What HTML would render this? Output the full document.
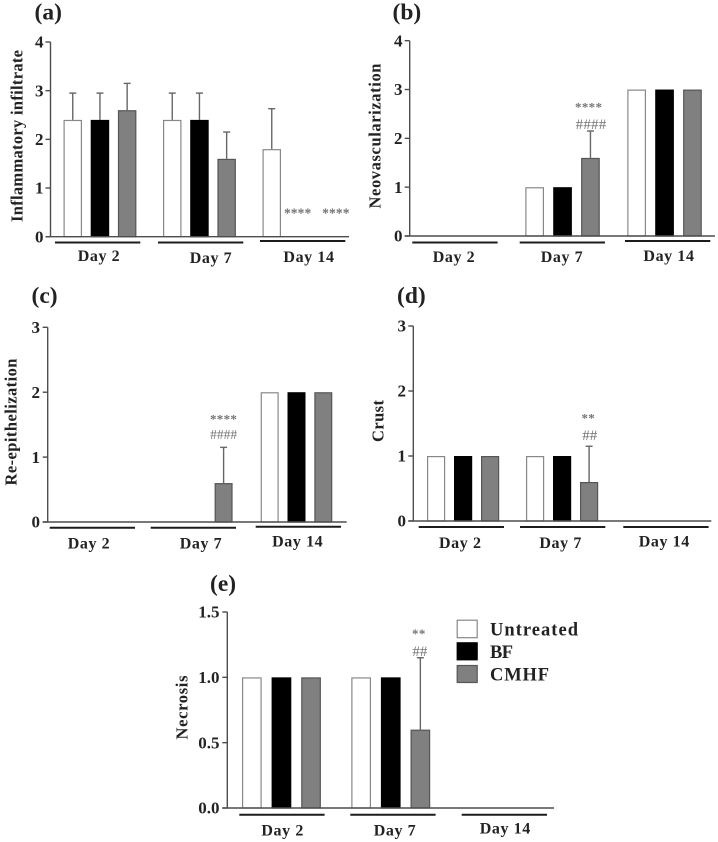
<!DOCTYPE html>
<html lang="en">
<head>
<meta charset="utf-8">
<title>Histological scores by day and treatment</title>
<style>
html,body{margin:0;padding:0;background:#fff;width:718px;height:842px;overflow:hidden}
svg{display:block;font-family:"Liberation Serif",serif}
text{font-weight:bold;fill:#222}
</style>
</head>
<body>
<svg id="figure" width="718" height="842" viewBox="0 0 718 842" xmlns="http://www.w3.org/2000/svg">
  <rect width="718" height="842" fill="#fff"/>
  <text x="34.5" y="19.5" font-size="23.5">(a)</text>
  <text x="392.5" y="19.5" font-size="23.5">(b)</text>
  <text x="31.5" y="303" font-size="23.5">(c)</text>
  <text x="397" y="303" font-size="23.5">(d)</text>
  <text x="210" y="591" font-size="23.5">(e)</text>

  <text transform="translate(22.5,136) rotate(-90)" text-anchor="middle" font-size="16.5" textLength="172" lengthAdjust="spacing">Inflammatory infiltrate</text>
  <text transform="translate(380.5,136) rotate(-90)" text-anchor="middle" font-size="16.5" textLength="145" lengthAdjust="spacing">Neovascularization</text>
  <text transform="translate(16.5,422) rotate(-90)" text-anchor="middle" font-size="16.5" textLength="127" lengthAdjust="spacing">Re-epithelization</text>
  <text transform="translate(383.5,421) rotate(-90)" text-anchor="middle" font-size="16.5" textLength="42" lengthAdjust="spacing">Crust</text>
  <text transform="translate(187.5,707.5) rotate(-90)" text-anchor="middle" font-size="16.5" textLength="64" lengthAdjust="spacing">Necrosis</text>

  <g>
    <rect x="457.2" y="620.2" width="20" height="17.5" fill="#fff" stroke="#888" stroke-width="1.2"/>
    <text x="490" y="635.5" font-size="18.5" textLength="88" lengthAdjust="spacing">Untreated</text>
    <rect x="457.2" y="642.8" width="20" height="17" fill="#000" stroke="#000" stroke-width="1.2"/>
    <text x="490" y="658" font-size="18.5" textLength="23" lengthAdjust="spacing">BF</text>
    <rect x="457.2" y="665.5" width="20" height="17" fill="#808080" stroke="#555" stroke-width="1.2"/>
    <text x="490" y="680.5" font-size="18.5" textLength="59" lengthAdjust="spacing">CMHF</text>
  </g>
</svg>

<script>
// ---- Data ----
const categories = ['Day 2', 'Day 7', 'Day 14'];
const seriesNames = ['untreated', 'bf', 'cmhf'];

const valuesA = [[2.4, 2.4, 2.6], [2.4, 2.4, 1.6], [1.8, 0, 0]];
const errorsA = [[0.55, 0.55, 0.55], [0.55, 0.55, 0.55], [0.83, 0, 0]];
const ticksA = ['0', '1', '2', '3', '4'];

const valuesB = [[0, 0, 0], [1, 1, 1.6], [3, 3, 3]];
const errorsB = [[0, 0, 0], [0, 0, 0.55], [0, 0, 0]];
const ticksB = ['0', '1', '2', '3', '4'];

const valuesC = [[0, 0, 0], [0, 0, 0.6], [2, 2, 2]];
const errorsC = [[0, 0, 0], [0, 0, 0.55], [0, 0, 0]];
const ticksC = ['0', '1', '2', '3'];

const valuesD = [[1, 1, 1], [1, 1, 0.6], [0, 0, 0]];
const errorsD = [[0, 0, 0], [0, 0, 0.55], [0, 0, 0]];
const ticksD = ['0', '1', '2', '3'];

const valuesE = [[1, 1, 1], [1, 1, 0.6], [0, 0, 0]];
const errorsE = [[0, 0, 0], [0, 0, 0.55], [0, 0, 0]];
const ticksE = ['0.0', '0.5', '1.0', '1.5'];

// ---- Layout and styling ----
const SVG_NS = 'http://www.w3.org/2000/svg';
const figure = document.getElementById('figure');
const fills = ['#ffffff', '#000000', '#808080'];
const strokes = ['#888888', '#000000', '#555555'];

const panels = [
  { id: 'a', values: valuesA, errors: errorsA, ticks: ticksA, axisX: 50.5, y0: 236.7, yTop: 42, xEnd: 349,
    groupX: [63.5, 163, 262.5], step: 27.2, barW: 18.5, tickRight: 43.5,
    lineX: [55, 158, 260], lineY: [242.5, 242.5, 241], labelX: [99, 211, 309], labelY: [261, 263, 262],
    marks: [
      { text: '****', group: 2, series: 1, dx: -1.3, fromBase: 25.7, size: 13.5, spacing: 0.1 },
      { text: '****', group: 2, series: 2, dx: 9.7, fromBase: 25.7, size: 13.5, spacing: 0.1 }
    ] },
  { id: 'b', values: valuesB, errors: errorsB, ticks: ticksB, axisX: 409.7, y0: 236, yTop: 40.7, xEnd: 715,
    groupX: [423.3, 525.3, 627.3], step: 27.9, barW: 18.7, tickRight: 402.5,
    lineX: [412.3, 519.7, 625], lineY: [242.5, 242.5, 241], labelX: [454, 562, 669], labelY: [262, 262, 261],
    marks: [
      { text: '****', group: 1, series: 2, dx: -1.8, fromError: 26, size: 13, spacing: 0.3 },
      { text: '####', group: 1, series: 2, dx: 0.6, fromError: 7, size: 15, spacing: 0.2 }
    ] },
  { id: 'c', values: valuesC, errors: errorsC, ticks: ticksC, axisX: 47.7, y0: 522, yTop: 327.3, xEnd: 346.7,
    groupX: [60.5, 161, 260.7], step: 26.8, barW: 18, tickRight: 40,
    lineX: [49.7, 150.7, 255.7], lineY: [527.7, 527.7, 526.7], labelX: [89, 201, 297.7], labelY: [548.7, 548.7, 546.7],
    marks: [
      { text: '****', group: 1, series: 2, dx: 0, fromError: 30, size: 13, spacing: 0.3 },
      { text: '####', group: 1, series: 2, dx: 0, fromError: 12.7, size: 13.5, spacing: 0 }
    ] },
  { id: 'd', values: valuesD, errors: errorsD, ticks: ticksD, axisX: 413.3, y0: 521, yTop: 326, xEnd: 711.3,
    groupX: [427, 526, 625], step: 27, barW: 18.2, tickRight: 406,
    lineX: [418.7, 520, 623.3], lineY: [527, 527, 527], labelX: [460.3, 560.7, 664.3], labelY: [548, 548, 546.7],
    marks: [
      { text: '**', group: 1, series: 2, dx: -0.8, fromError: 30, size: 13, spacing: 0.3 },
      { text: '##', group: 1, series: 2, dx: 0.7, fromError: 11, size: 15, spacing: 0 }
    ] },
  { id: 'e', values: valuesE, errors: errorsE, ticks: ticksE, axisX: 227.3, y0: 808, yTop: 612, xEnd: 554,
    groupX: [242, 351.3, 460], step: 29.6, barW: 19.7, tickRight: 219.5,
    lineX: [239.3, 350.3, 461.7], lineY: [814.7, 814.7, 814.7], labelX: [282.7, 395, 505.3], labelY: [835.3, 835.3, 833.7],
    marks: [
      { text: '**', group: 1, series: 2, dx: -1.5, fromError: 26, size: 13, spacing: 0.3 },
      { text: '##', group: 1, series: 2, dx: -0.5, fromError: 6.7, size: 15, spacing: 0 }
    ] }
];

const underlineWidth = 85.3;
const capWidth = 7;

function make(tag, attrs, parent) {
  const el = document.createElementNS(SVG_NS, tag);
  Object.keys(attrs).forEach(function (k) { el.setAttribute(k, attrs[k]); });
  parent.appendChild(el);
  return el;
}

panels.forEach(function (p) {
  const g = make('g', {}, figure);
  
  

  const maxTick = parseFloat(p.ticks[p.ticks.length - 1]);
  const yScale = function (v) { return p.y0 - (v / maxTick) * (p.y0 - p.yTop); };
  const xBar = function (group, series) { return p.groupX[group] + series * p.step; };

  // Bars and error bars
  p.values.forEach(function (groupValues, gi) {
    groupValues.forEach(function (v, si) {
      if (v <= 0) { return; }
      const left = xBar(gi, si);
      const cx = left + p.barW / 2;
      const err = p.errors[gi][si];
      if (err > 0) {
        const eTop = yScale(v + err);
        const stem = make('line', { x1: cx, x2: cx, y1: yScale(v), y2: eTop, stroke: '#666', 'stroke-width': 1.4 }, g);
        
        
        const cap = make('line', { x1: cx - capWidth / 2, x2: cx + capWidth / 2, y1: eTop, y2: eTop, stroke: '#666', 'stroke-width': 1.4 }, g);
        
        
      }
      const top = yScale(v);
      const bar = make('rect', { x: left + 0.6, y: top + 0.6, width: p.barW - 1.2, height: p.y0 - top - 0.6, fill: fills[si], stroke: strokes[si], 'stroke-width': 1.2 }, g);
      
      
    });
  });

  // Axes
  const yAxis = make('line', { x1: p.axisX, x2: p.axisX, y1: p.yTop, y2: p.y0, stroke: '#4d4d4d', 'stroke-width': 1.4 }, g);
  
  
  const xAxis = make('line', { x1: p.axisX - 5, x2: p.xEnd, y1: p.y0, y2: p.y0, stroke: '#4d4d4d', 'stroke-width': 1.4 }, g);
  
  

  p.ticks.forEach(function (label) {
    const v = parseFloat(label);
    const y = yScale(v);
    const mark = make('line', { x1: p.axisX - 5, x2: p.axisX, y1: y, y2: y, stroke: '#4d4d4d', 'stroke-width': 1.4 }, g);
    
    
    const t = make('text', { x: p.tickRight, y: y + 5.7, 'text-anchor': 'end', 'font-size': 17 }, g);
    
    
    t.textContent = label;
  });

  // Group underlines and day labels
  categories.forEach(function (day, i) {
    const key = day.replace(' ', '').toLowerCase();
    const rule = make('line', { x1: p.lineX[i], x2: p.lineX[i] + underlineWidth, y1: p.lineY[i], y2: p.lineY[i], stroke: '#1c1c1c', 'stroke-width': 2 }, g);
    
    
    const t = make('text', { x: p.labelX[i], y: p.labelY[i], 'text-anchor': 'middle', 'font-size': 16, 'letter-spacing': 0.6 }, g);
    
    
    t.textContent = day;
  });

  // Significance marks
  p.marks.forEach(function (m, i) {
    const base = m.fromBase !== undefined
      ? p.y0 - m.fromBase
      : yScale(p.values[m.group][m.series] + p.errors[m.group][m.series]) - m.fromError;
    const isStar = m.text.charAt(0) === '*';
    const baseline = base + (isStar ? m.size * 0.48 : m.size * 0.33);
    const t = make('text', {
      x: xBar(m.group, m.series) + p.barW / 2 + m.dx,
      y: baseline, 'text-anchor': 'middle', 'font-size': m.size, 'letter-spacing': m.spacing,
      style: 'fill:#737373;font-weight:' + (isStar ? 'bold' : 'normal')
    }, g);
    
    
    t.textContent = m.text;
  });
});
</script>
</body>
</html>
